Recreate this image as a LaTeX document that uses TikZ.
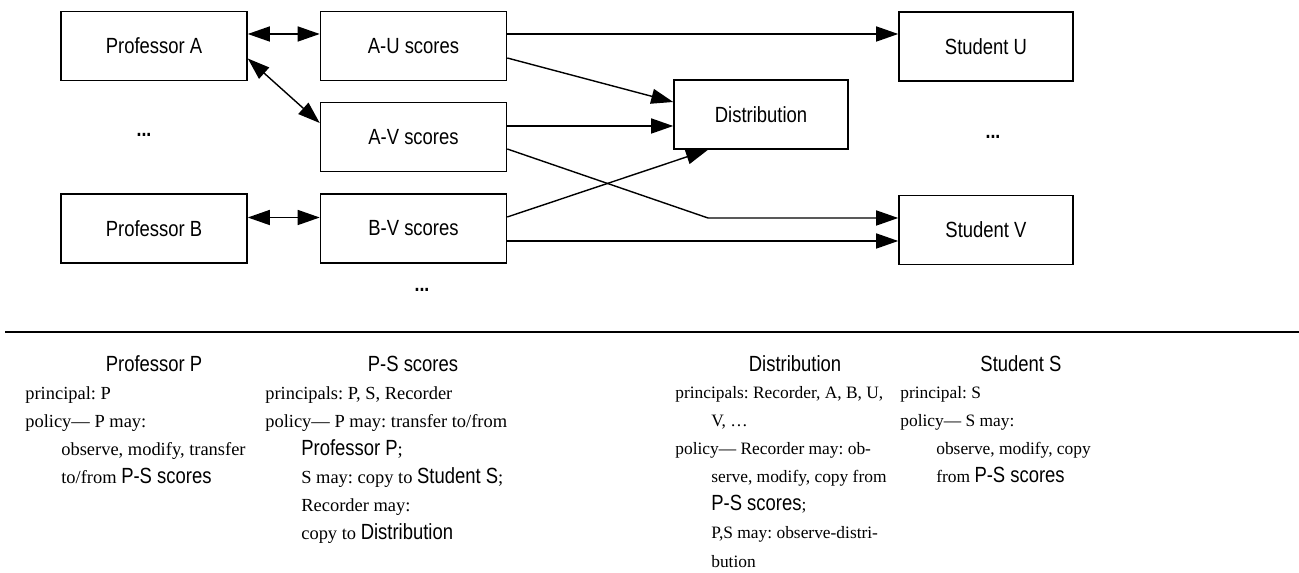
\documentclass[tikz,border=0pt]{standalone}
\usepackage{fontspec}
\setmainfont{Liberation Serif}
\newfontfamily\labelfont[FakeStretch=0.84]{Liberation Sans}
\usepackage{tikz}
\usetikzlibrary{arrows.meta, calc}
\frenchspacing
\newcommand{\sfl}[1]{{\labelfont\fontsize{12.5}{15}\selectfont #1}}
\newcommand{\ind}{\hspace*{0.72cm}}
\tikzset{
  >={Triangle[length=0.44cm,width=0.3cm]},
  % blocchi del diagramma
  blk/.style={draw,line width=0.9pt,minimum width=3.72cm,minimum height=1.38cm,inner sep=0,font=\labelfont\fontsize{12.5}{15}\selectfont},
  blk right/.style={blk,minimum width=3.48cm},
  % connessioni
  conn/.style={->,line width=0.8pt},
  conn both/.style={<->,line width=0.8pt},
  dots/.style={font=\labelfont\bfseries\fontsize{12}{14}\selectfont},
  % testo sotto la linea
  head/.style={anchor=base,inner sep=0,font=\labelfont\fontsize{12.5}{15}\selectfont},
  body/.style={anchor=north west,inner sep=0,align=left,font=\fontsize{10.5}{16}\selectfont},
  body narrow/.style={body,font=\fontsize{9.9}{16}\selectfont}
}
\begin{document}
\begin{tikzpicture}[x=0.02cm,y=-0.02cm]
  \useasboundingbox (0,0) rectangle (1299,573);
  \node[blk] (profA) at (154,46) {Professor A};
  \node[blk] (profB) at (154,228.5) {Professor B};
  \node[blk] (AU) at (413.5,46) {A-U scores};
  \node[blk] (AV) at (413.5,137) {A-V scores};
  \node[blk] (BV) at (413.5,228.5) {B-V scores};
  \node[blk right] (dist) at (761,114.5) {Distribution};
  \node[blk right] (stuU) at (986,46.5) {Student U};
  \node[blk right] (stuV) at (986,230) {Student V};
  \node[dots] (dotsP) at (144,135) {...};
  \node[dots] (dotsSc) at (422,290) {...};
  \node[dots] (dotsS) at (993,137) {...};
  \coordinate (bend) at (708,218);
  \draw[conn both] ([yshift=0.24cm]profA.east) -- ([yshift=0.24cm]AU.west);
  \draw[conn both] ([yshift=-0.25cm]profA.east) -- ([yshift=0.28cm]AV.west);
  \draw[conn both] ([yshift=0.22cm]profB.east) -- ([yshift=0.22cm]BV.west);
  \draw[conn] ([yshift=0.24cm]AU.east) -- ([yshift=0.24cm]AU.east -| stuU.west);
  \draw[conn] ([yshift=-0.24cm]AU.east) -- ([yshift=0.25cm]dist.west);
  \draw[conn] ([yshift=0.22cm]AV.east) -- ([yshift=0.22cm]AV.east -| dist.west);
  \draw[conn] ([yshift=-0.24cm]AV.east) -- (bend) -- (bend -| stuV.west);
  \draw[conn] ([yshift=0.23cm]BV.east) -- (bend |- dist.south);
  \draw[conn] ([yshift=-0.25cm]BV.east) -- ([yshift=-0.25cm]BV.east -| stuV.west);
  \coordinate (ruleL) at (5,332);
  \coordinate (ruleR) at (1299,332);
  \draw[line width=1pt] (ruleL) -- (ruleR);
  \node[head] (hP) at (154,372) {Professor P};
  \node[body] (txtP) at (25,386) {principal: P\\policy— P may:\\\ind observe, modify, transfer\\\ind to/from \sfl{P-S scores}};
  \node[head] (hPS) at (413,372) {P-S scores};
  \node[body] (txtPS) at (265,386) {principals: P, S, Recorder\\policy— P may: transfer to/from\\\ind\sfl{Professor P};\\\ind S may: copy to \sfl{Student S};\\\ind Recorder may:\\\ind copy to \sfl{Distribution}};
  \node[head] (hD) at (795,372) {Distribution};
  \node[body narrow] (txtD) at (675,386) {principals: Recorder, A, B, U,\\\ind V, \dots\\policy— Recorder may: ob-\\\ind serve, modify, copy from\\\ind\sfl{P-S scores};\\\ind P,S may: observe-distri-\\\ind bution};
  \node[head] (hS) at (1021,372) {Student S};
  \node[body narrow] (txtS) at (900,386) {principal: S\\policy— S may:\\\ind observe, modify, copy\\\ind from \sfl{P-S scores}};
\end{tikzpicture}
\end{document}
